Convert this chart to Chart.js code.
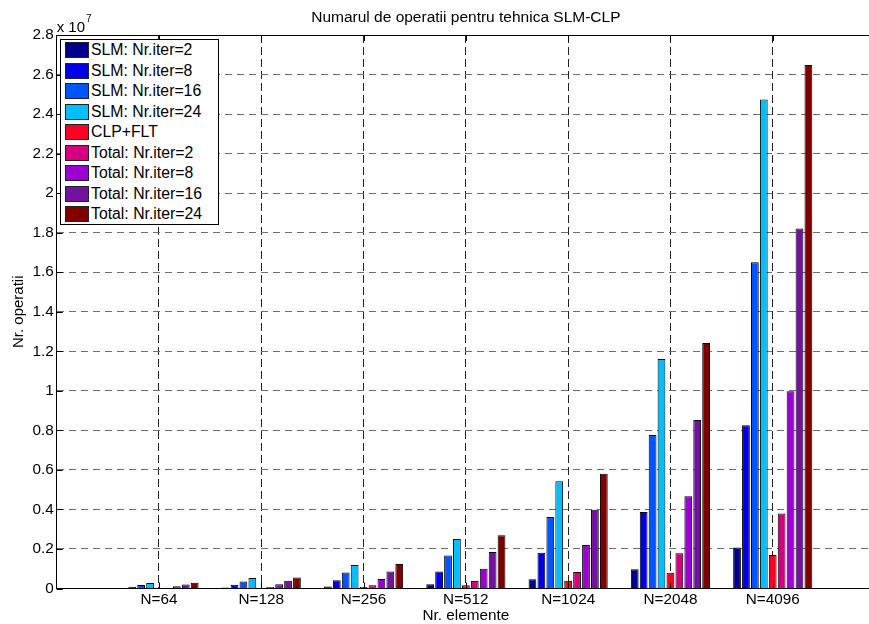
<!DOCTYPE html>
<html><head><meta charset="utf-8">
<script src="https://cdn.jsdelivr.net/npm/chart.js@4/dist/chart.umd.min.js"></script>
<style>
html,body{margin:0;padding:0;overflow:hidden;background:#fff;width:869px;height:624px}
#wrap{position:absolute;left:0;top:0;width:877px;height:624px}
#legend{position:absolute;left:60px;top:39px;width:159px;height:186px;box-sizing:border-box;border:1px solid #000;background:#fff;font:15.8px 'Liberation Sans',Arial,Helvetica,sans-serif;color:#000}
.row{position:absolute;left:0;height:20px;display:flex;align-items:center;white-space:nowrap}
.sw{width:22px;height:14px;border:1px solid #222;margin-left:4px;margin-right:2px;flex:none}
</style></head><body>
<div id="wrap"><canvas id="c"></canvas></div>
<div id="legend"></div>
<script>
// Values in units of 10^7 operations
const categories = ['N=64','N=128','N=256','N=512','N=1024','N=2048','N=4096'];
const slmIter2   = [0.0023, 0.005, 0.010, 0.022, 0.047, 0.098, 0.207];
const slmIter8   = [0.009, 0.019, 0.042, 0.086, 0.181, 0.387, 0.826];
const slmIter16  = [0.018, 0.036, 0.081, 0.167, 0.362, 0.776, 1.651];
const slmIter24  = [0.028, 0.053, 0.119, 0.251, 0.543, 1.161, 2.474];
const clpFlt     = [0.0015, 0.003, 0.008, 0.017, 0.039, 0.080, 0.170];
const totalIter2 = [0.004, 0.007, 0.016, 0.038, 0.084, 0.178, 0.379];
const totalIter8 = [0.011, 0.022, 0.048, 0.100, 0.220, 0.467, 0.998];
const totalIter16= [0.020, 0.039, 0.086, 0.185, 0.398, 0.853, 1.821];
const totalIter24= [0.029, 0.056, 0.124, 0.270, 0.580, 1.242, 2.648];
const seriesNames = ['SLM: Nr.iter=2','SLM: Nr.iter=8','SLM: Nr.iter=16','SLM: Nr.iter=24','CLP+FLT','Total: Nr.iter=2','Total: Nr.iter=8','Total: Nr.iter=16','Total: Nr.iter=24'];
const yTicks = [0,0.2,0.4,0.6,0.8,1,1.2,1.4,1.6,1.8,2,2.2,2.4,2.6,2.8];
const chartTitle = 'Numarul de operatii pentru tehnica SLM-CLP';

const series = [slmIter2, slmIter8, slmIter16, slmIter24, clpFlt, totalIter2, totalIter8, totalIter16, totalIter24];
const seriesColors = ['#00008c','#0000e8','#0055ff','#00bfff','#ff0022','#d4007f','#9c00d2','#7412a0','#800000'];
const FONT = "'Liberation Sans', Arial, Helvetica, sans-serif";

const labels = ['', ...categories, ''];
const pad = a => [null, ...a, null];

// HTML legend
const lg = document.getElementById('legend');
seriesNames.forEach((n,i)=>{
  const r = document.createElement('div');
  r.className='row';
  r.style.top = (0.3 + i*20.46) + 'px';
  const s = document.createElement('div');
  s.className='sw'; s.style.background = seriesColors[i];
  const t = document.createElement('span'); t.textContent = n;
  r.appendChild(s); r.appendChild(t); lg.appendChild(r);
});

const framePlugin = {
  id:'frame',
  afterDraw(chart){
    const {ctx, chartArea:a, scales} = chart;
    ctx.save();
    ctx.strokeStyle='#000'; ctx.lineWidth=1; ctx.setLineDash([]);
    ctx.beginPath();
    ctx.moveTo(a.left, a.top+0.5); ctx.lineTo(a.right, a.top+0.5);
    yTicks.forEach(v=>{
      const py = Math.round(scales.y.getPixelForValue(v))+0.5;
      ctx.moveTo(a.left, py); ctx.lineTo(a.left+6, py);
    });
    categories.forEach((c,i)=>{
      const px = Math.round(scales.x.getPixelForValue(i+1))+0.5;
      ctx.moveTo(px, a.top); ctx.lineTo(px, a.top+6);
      ctx.moveTo(px, a.bottom); ctx.lineTo(px, a.bottom-6);
    });
    ctx.stroke();
    ctx.fillStyle='#000';
    // title centred over the axes
    ctx.textAlign='center'; ctx.textBaseline='alphabetic';
    ctx.font = '15.5px ' + FONT;
    ctx.fillText(chartTitle, (a.left + a.right)/2, 22);
    // exponent label
    ctx.textAlign='left';
    ctx.font = '15px ' + FONT;
    ctx.fillText('x 10', a.left, 31.5);
    const w = ctx.measureText('x 10').width;
    ctx.font = '10px ' + FONT;
    ctx.fillText('7', a.left + w + 1, 21.5);
    ctx.restore();
  }
};

new Chart(document.getElementById('c'), {
  type:'bar',
  data:{
    labels,
    datasets: series.map((s,i)=>({
      label: seriesNames[i], data: pad(s),
      backgroundColor: seriesColors[i], borderColor:'#000', borderWidth:1,
      borderSkipped:'start', categoryPercentage:0.785, barPercentage:0.87
    }))
  },
  options:{
    responsive:true, maintainAspectRatio:false, animation:false,
    layout:{padding:{top:35,left:0,right:1.5,bottom:0}},
    plugins:{
      legend:{display:false}, tooltip:{enabled:false}, title:{display:false}
    },
    scales:{
      x:{
        type:'category', offset:false,
        grid:{display:true, offset:false, color:'#222', lineWidth:1, drawTicks:false},
        border:{display:true, color:'#000', width:1, dash:[8,4]},
        ticks:{color:'#000', font:{family:FONT,size:15.3}, padding:2, maxRotation:0, autoSkip:false},
        title:{display:true, text:'Nr. elemente', color:'#000', font:{family:FONT,size:15.3,lineHeight:1.1}, padding:{top:0,bottom:0}},
        afterFit(s){ s.height = 35.5; }
      },
      y:{
        min:0, max:2.8,
        afterBuildTicks(s){ s.ticks = yTicks.map(v=>({value:v})); },
        grid:{display:true, color:'#6e6e6e', lineWidth:1, drawTicks:false},
        border:{display:true, color:'#000', width:1, dash:[7,5]},
        ticks:{color:'#000', font:{family:FONT,size:15.3}, padding:3,
          callback:v=>String(Number(v.toFixed(1)))},
        title:{display:true, text:'Nr. operatii', color:'#000', font:{family:FONT,size:15,lineHeight:1.2}, padding:{top:9.4,bottom:0}},
        afterFit(s){ s.width = 56.7; }
      }
    }
  },
  plugins:[framePlugin]
});
</script>
</body></html>
